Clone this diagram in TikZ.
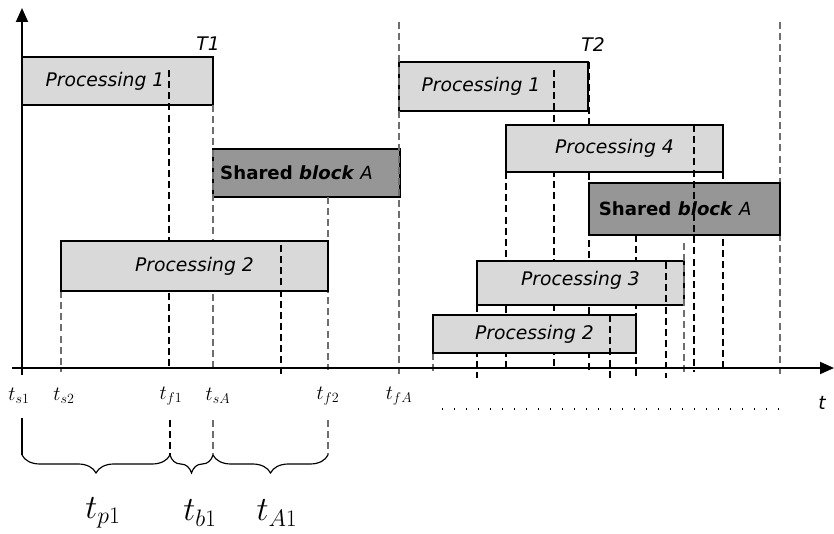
\documentclass[tikz,border=0pt]{standalone}
\usepackage{fix-cm}
\usepackage[no-math]{fontspec}
\newfontfamily\taskfont{DejaVu Sans}[ItalicFont=DejaVu Sans Oblique, BoldFont=DejaVu Sans Bold, BoldItalicFont=DejaVu Sans Bold Oblique]
\usetikzlibrary{arrows.meta, decorations.pathreplacing}
\definecolor{procgray}{RGB}{217, 217, 217}
\definecolor{sharedgray}{RGB}{150, 150, 150}
\definecolor{guidegray}{RGB}{110, 110, 110}
\tikzstyle{procbox} = [rectangle, inner sep=0pt, draw=black, fill=procgray,
                       line width=0.4mm]
\tikzstyle{sharedbox} = [procbox, fill=sharedgray]
\tikzstyle{proctext} = [inner sep=0pt, font=\taskfont\itshape\fontsize{16}{19}\selectfont]
\tikzstyle{sharedtext} = [inner sep=0pt, font=\taskfont\fontsize{15.5}{18}\selectfont]
\tikzstyle{guide} = [dash pattern=on 6pt off 3.5pt, line width=0.4mm]
\tikzstyle{greyguide} = [guide, draw=guidegray, line width=0.55mm]
\tikzstyle{axis} = [line width=0.55mm, -{Triangle[length=4.2mm, width=3.6mm]}]
\tikzstyle{ticklabel} = [inner sep=0pt, font=\LARGE]
\tikzstyle{spanlabel} = [inner sep=0pt, font=\fontsize{29}{33}\selectfont]
\tikzstyle{bracket} = [line width=0.35mm, decorate, decoration={brace, mirror, amplitude=0.54cm}]

\begin{document}
\begin{tikzpicture}[x=0.03cm, y=-0.03cm]
        \useasboundingbox (0,0) rectangle (834,534);

        % upper boxes
        \node (Proc1a) [procbox, minimum width=5.73cm, minimum height=1.44cm] at (117.5, 81) {};
        \node (Proc1b) [procbox, minimum width=5.67cm, minimum height=1.47cm] at (493.5, 86.5) {};
        \node (SharedA1) [sharedbox, minimum width=5.61cm, minimum height=1.44cm] at (306.5, 173) {};

        % guides behind the lower boxes
        \draw [guide] (169, 70) -- (169, 370); %t_f1
        \draw [greyguide] (213, 105) -- (213, 370); %t_sA
        \draw [greyguide] (328, 197) -- (328, 370); %t_f2
        \draw [greyguide] (61, 291) -- (61, 372); %t_s2
        \draw [greyguide] (399, 22) -- (399, 375); %t_fA
        \draw [greyguide] (780, 22) -- (780, 378);
        \draw [guide] (554, 70) -- (554, 370);
        \draw [guide] (589, 62) -- (589, 370);
        \draw [guide] (506, 172) -- (506, 372);
        \draw [guide] (723, 172) -- (723, 370);
        \draw [guide] (636, 235) -- (636, 378);
        \draw [guide] (477, 305) -- (477, 378);
        \draw [greyguide] (433, 353) -- (433, 375);

        % lower boxes
        \node (Proc2a) [procbox, minimum width=8.01cm, minimum height=1.5cm] at (194.5, 266) {};
        \node (Proc4) [procbox, minimum width=6.51cm, minimum height=1.41cm] at (614.5, 148.5) {};
        \node (SharedA2) [sharedbox, minimum width=5.73cm, minimum height=1.56cm] at (684.5, 209) {};
        \node (Proc3) [procbox, minimum width=6.21cm, minimum height=1.32cm] at (580.5, 283) {};
        \node (Proc2b) [procbox, minimum width=6.09cm, minimum height=1.14cm] at (534.5, 334) {};

        % guides in front
        \draw [guide] (281, 245) -- (281, 378);
        \draw [guide] (694, 125) -- (694, 372);
        \draw [guide] (610, 315) -- (610, 378);
        \draw [guide] (666, 262) -- (666, 378);
        \draw [greyguide] (684, 243) -- (684, 375);

        % box texts
        \node (Proc1aText) [proctext, xshift=-0.375cm] at (Proc1a) {Processing 1};
        \node (Proc1bText) [proctext, xshift=-0.375cm] at (Proc1b) {Processing 1};
        \node (SharedA1Text) [sharedtext, xshift=-0.3cm] at (SharedA1) {\textbf{Shared \textit{block}} \textit{A}};
        \node (SharedA2Text) [sharedtext, xshift=-0.28cm] at (SharedA2) {\textbf{Shared \textit{block}} \textit{A}};
        \node (Proc2aText) [proctext] at (Proc2a) {Processing 2};
        \node (Proc2bText) [proctext] at (Proc2b) {Processing 2};
        \node (Proc3Text) [proctext, yshift=0.09cm] at (Proc3) {Processing 3};
        \node (Proc4Text) [proctext] at (Proc4) {Processing 4};

        \node (T1) [proctext] at (208, 44) {T1};
        \node (T2) [proctext] at (593, 45) {T2};

        % axes
        \draw [axis] (22, 375) -- (22, 8);
        \draw [axis] (12, 368) -- (834, 368);
        \node (TimeLabel) [proctext] at (822, 403) {t};

        % time marks
        \node (ts1) [ticklabel] at (19, 396) {$t_{s1}$};
        \node (ts2) [ticklabel] at (64, 396) {$t_{s2}$};
        \node (tf1) [ticklabel] at (171, 396) {$t_{f1}$};
        \node (tsA) [ticklabel] at (218, 396) {$t_{sA}$};
        \node (tf2) [ticklabel] at (328, 396) {$t_{f2}$};
        \node (tfA) [ticklabel] at (399, 396) {$t_{fA}$};
        \draw [line width=0.45mm, dash pattern=on 0.04cm off 0.32cm] (442, 409) -- (779, 409);

        % spans
        \draw [line width=0.35mm] (22, 418) -- (22, 455);
        \draw [guide] (170, 420) -- (170, 455);
        \draw [greyguide] (213, 420) -- (213, 455);
        \draw [greyguide] (328, 420) -- (328, 455);
        \draw [bracket] (22, 455) -- (170, 455);
        \draw [bracket] (170, 455) -- (213, 455);
        \draw [bracket] (213, 455) -- (328, 455);
        \node (tp1) [spanlabel] at (103, 513) {$t_{p1}$};
        \node (tb1) [spanlabel] at (200, 513) {$t_{b1}$};
        \node (tA1) [spanlabel] at (277, 513) {$t_{A1}$};

\end{tikzpicture}
\end{document}
